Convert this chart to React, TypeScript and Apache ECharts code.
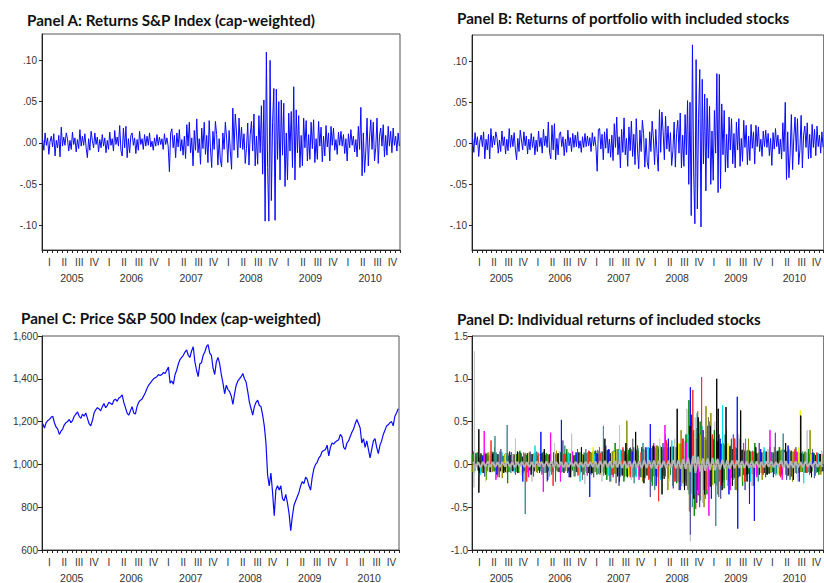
import React, { useEffect, useRef } from "react";
import * as echarts from "echarts";

// ---------- labels ----------
const QUARTERS = ["I", "II", "III", "IV"];
const YEARS = ["2005", "2006", "2007", "2008", "2009", "2010"];
const TITLES = [
  "Panel A: Returns S&P Index (cap-weighted)",
  "Panel B: Returns of portfolio with included stocks",
  "Panel C: Price S&P 500 Index (cap-weighted)",
  "Panel D: Individual returns of included stocks",
];
const RET_TICKS = [-0.1, -0.05, 0, 0.05, 0.1];

// ---------- data: returns, 4 obs per month, Jan 2005 - Dec 2010 ----------
const RET_A = [
  .004,-.009,.012,-.003,.006,-.014,.002,.008,-.005,.011,-.016,.003,
  -.006,.009,-.017,.019,-.004,.007,-.003,.012,.005,-.010,.003,-.008,
  .013,-.002,.006,-.011,.004,-.007,.016,-.004,.008,-.003,.011,-.006,
  -.018,.005,-.009,.014,.003,-.006,.012,-.002,.007,-.011,.004,-.006,
  .010,-.004,.006,-.012,.003,-.008,.013,-.003,.005,-.010,.015,-.002,
  .007,-.004,.021,-.009,-.016,.018,-.006,.020,-.018,.005,-.012,.009,
  .012,-.003,.006,-.013,.004,-.009,.014,-.002,.005,-.008,.010,-.004,
  .008,-.003,.012,-.005,.002,-.009,.006,-.004,.010,-.003,.007,-.002,
  .005,-.008,.011,-.002,.006,-.004,-.035,.012,.017,-.006,.009,-.018,
  .012,-.005,.016,-.010,.004,-.015,.008,-.019,.022,-.004,.025,-.012,
  .006,-.028,.015,-.009,.029,-.012,.005,-.026,.018,-.007,.025,-.014,
  .009,-.024,.027,-.006,-.030,.014,-.008,.026,.010,-.027,.005,-.021,
  -.029,.012,-.008,.025,.006,-.024,.015,-.010,-.032,.042,-.009,.035,
  .012,-.018,.030,-.006,.019,-.008,.011,-.025,-.007,.024,-.027,.010,
  .026,-.010,.035,-.028,.008,-.026,.033,-.012,.045,-.038,.052,-.095,
  .110,-.030,-.095,.100,-.070,.025,.066,-.094,.065,-.020,.050,-.045,
  .052,-.015,.048,-.053,.012,-.045,.036,-.010,.038,-.030,.068,-.045,
  .040,-.012,.033,-.030,.009,-.028,.030,-.006,.027,-.022,.010,-.020,
  .025,-.007,.028,-.024,.005,-.020,.026,-.004,.019,-.023,.008,-.016,
  .021,-.005,.012,-.022,.020,-.003,.018,-.009,.004,-.014,.013,-.003,
  .014,-.004,.010,-.013,.005,-.022,.011,-.006,.016,-.003,.008,-.011,
  .004,-.017,.020,-.008,.043,-.040,.012,-.036,-.010,.030,-.028,.006,
  .028,-.008,.025,-.022,-.006,.030,-.025,.008,.018,-.004,.022,-.017,
  .009,-.015,.020,-.004,.014,-.012,.018,-.003,.008,-.010,.012,-.004,
];

const RET_B = [
  .006,-.011,.013,-.002,.008,-.016,.003,.010,-.004,.014,-.019,.005,
  -.008,.011,-.019,.018,-.005,.009,-.002,.014,.006,-.012,.004,-.010,
  .015,-.003,.008,-.013,.005,-.009,.018,-.005,.010,-.004,.013,-.007,
  -.020,.006,-.010,.016,.004,-.008,.014,-.003,.009,-.013,.005,-.008,
  .012,-.005,.008,-.014,.004,-.010,.015,-.004,.007,-.012,.017,-.003,
  .009,-.005,.026,-.011,-.019,.022,-.008,.024,-.020,.006,-.014,.011,
  .014,-.004,.008,-.015,.005,-.011,.016,-.003,.007,-.010,.012,-.005,
  .010,-.004,.014,-.006,.003,-.011,.008,-.005,.012,-.004,.009,-.003,
  .007,-.010,.013,-.003,.008,-.005,-.034,.017,.018,-.007,.011,-.020,
  .014,-.006,.018,-.012,.005,-.017,.010,-.021,.024,-.005,.032,-.014,
  .008,-.030,.017,-.011,.031,-.014,.006,-.028,.020,-.009,.027,-.016,
  .011,-.026,.030,-.007,-.031,.016,-.010,.028,.012,-.029,.006,-.023,
  -.031,.014,-.010,.027,.007,-.026,.017,-.012,-.034,.041,-.011,.038,
  .014,-.020,.033,-.007,.021,-.010,.013,-.027,-.009,.026,-.029,.012,
  .028,-.012,.037,-.030,.010,-.028,.035,-.014,.052,-.050,.050,-.088,
  .120,-.035,-.098,.102,-.080,.030,.090,-.102,.078,-.025,.060,-.058,
  .055,-.018,.045,-.050,.015,-.045,.040,-.012,.085,-.060,.084,-.055,
  .048,-.014,.040,-.035,.011,-.030,.032,-.008,.030,-.025,.012,-.030,
  .026,-.008,.030,-.028,.006,-.022,.028,-.005,.022,-.026,.009,-.021,
  .023,-.006,.014,-.025,.022,-.004,.020,-.010,.005,-.016,.015,-.004,
  .016,-.005,.012,-.015,.006,-.027,.013,-.007,.018,-.004,.010,-.013,
  .005,-.019,.025,-.010,.050,-.044,.014,-.042,-.012,.035,-.032,.007,
  .032,-.010,.030,-.026,-.008,.034,-.030,.010,.021,-.005,.025,-.019,
  .011,-.018,.023,-.005,.017,-.015,.021,-.004,.010,-.012,.014,-.005,
];

// ---------- price level, 3 obs per month ----------
const PRICE_C = [
  1190,1170,1195, 1205,1210,1220, 1225,1195,1175, 1165,1140,1155,
  1165,1185,1195, 1200,1210,1195, 1205,1225,1235, 1245,1225,1215,
  1235,1225,1240, 1215,1190,1180, 1205,1240,1255, 1265,1260,1250,
  1270,1285,1265, 1275,1290,1285, 1280,1300,1305, 1295,1310,1315,
  1325,1290,1265, 1240,1230,1250, 1270,1240,1235, 1270,1290,1300,
  1305,1320,1335, 1355,1370,1380, 1390,1400,1405, 1410,1420,1415,
  1420,1430,1425, 1440,1455,1380, 1390,1375,1420, 1440,1470,1490,
  1500,1510,1525, 1535,1510,1500, 1530,1550,1480, 1440,1410,1470,
  1475,1510,1525, 1550,1560,1520, 1510,1450,1420, 1480,1500,1470,
  1420,1380,1330, 1370,1350,1340, 1320,1280,1330, 1370,1390,1400,
  1410,1425,1400, 1385,1340,1290, 1260,1230,1270, 1290,1300,1275,
  1270,1230,1180, 1100,950,900, 960,870,760, 880,900,880,
  900,840,830, 860,820,770, 690,760,810, 830,850,870,
  900,920,910, 940,930,900, 880,940,980, 1000,1010,1030,
  1040,1060,1065, 1070,1090,1040, 1080,1100,1095, 1105,1110,1115,
  1140,1130,1080, 1070,1100,1110, 1130,1150,1165, 1190,1210,1190,
  1170,1100,1120, 1080,1110,1070, 1030,1070,1110, 1120,1080,1050,
  1090,1110,1140, 1160,1180,1185, 1195,1200,1180, 1225,1240,1260,
];

// ---------- Panel D ----------
// central band (2 obs per month)
const D_BAND = [
  .03,-.03,.025,-.035,.03,-.025,.035,-.03,.03,-.03,.025,-.03,
  .03,-.025,.035,-.03,.025,-.035,.03,-.025,.03,-.03,.025,-.03,
  .03,-.03,.035,-.025,.03,-.03,.035,-.03,.04,-.035,.03,-.03,
  .03,-.035,.025,-.03,.03,-.025,.03,-.03,.025,-.03,.03,-.025,
  .03,-.03,.035,-.04,.035,-.03,.04,-.035,.035,-.04,.04,-.035,
  .045,-.04,.04,-.045,.04,-.04,.045,-.04,.04,-.045,.045,-.04,
  .05,-.045,.045,-.05,.045,-.04,.04,-.045,.045,-.04,.05,-.045,
  .05,-.05,.06,-.055,.08,-.09,.1,-.1,.09,-.085,.07,-.075,
  .07,-.065,.075,-.07,.065,-.06,.055,-.05,.05,-.05,.045,-.045,
  .045,-.04,.04,-.04,.035,-.04,.04,-.035,.035,-.035,.03,-.035,
  .035,-.03,.035,-.035,.03,-.03,.045,-.04,.04,-.04,.035,-.04,
  .035,-.035,.03,-.035,.035,-.03,.03,-.03,.035,-.03,.03,-.03,
];

// dense small returns of several stocks (2 obs per month each)
const D_FILL_GREEN = [
  .12,-.08,.14,-.1,.11,-.07,.13,-.09,.15,-.08,.12,-.1,
  .13,-.07,.11,-.09,.14,-.08,.12,-.1,.13,-.07,.11,-.09,
  .12,-.09,.14,-.07,.13,-.1,.11,-.08,.15,-.09,.12,-.08,
  .14,-.08,.12,-.1,.13,-.07,.11,-.09,.14,-.08,.13,-.1,
  .15,-.1,.13,-.12,.16,-.09,.14,-.11,.17,-.12,.15,-.1,
  .18,-.12,.16,-.14,.17,-.11,.19,-.13,.16,-.15,.18,-.12,
  .2,-.15,.18,-.13,.21,-.16,.17,-.14,.19,-.12,.2,-.15,
  .22,-.18,.25,-.2,.3,-.28,.35,-.3,.32,-.27,.3,-.25,
  .3,-.25,.28,-.22,.26,-.2,.24,-.18,.22,-.17,.2,-.15,
  .19,-.14,.17,-.12,.16,-.11,.15,-.12,.14,-.1,.15,-.11,
  .14,-.1,.13,-.09,.15,-.11,.16,-.12,.17,-.13,.15,-.11,
  .14,-.1,.13,-.09,.14,-.1,.12,-.08,.13,-.09,.12,-.08,
];
const D_FILL_OLIVE = [
  -.09,.13,-.07,.11,-.1,.14,-.08,.12,-.09,.13,-.07,.15,
  -.08,.12,-.1,.14,-.07,.11,-.09,.13,-.08,.12,-.1,.14,
  -.07,.13,-.09,.12,-.08,.15,-.1,.11,-.09,.14,-.07,.13,
  -.1,.12,-.08,.14,-.09,.11,-.07,.13,-.1,.12,-.08,.14,
  -.11,.15,-.09,.17,-.12,.14,-.1,.16,-.13,.15,-.11,.18,
  -.13,.17,-.15,.19,-.12,.18,-.14,.16,-.13,.2,-.15,.17,
  -.16,.19,-.14,.22,-.15,.2,-.13,.18,-.17,.21,-.15,.2,
  -.2,.24,-.22,.28,-.3,.38,-.35,.4,-.3,.36,-.28,.32,
  -.26,.3,-.24,.28,-.22,.25,-.2,.23,-.18,.21,-.16,.2,
  -.15,.18,-.13,.17,-.12,.16,-.11,.15,-.12,.14,-.1,.16,
  -.11,.15,-.1,.14,-.12,.16,-.13,.18,-.12,.16,-.11,.15,
  -.1,.14,-.09,.13,-.1,.14,-.08,.12,-.09,.13,-.08,.12,
];
const D_FILL_BLACK = [
  .11,.09,-.08,.13,-.1,.12,.1,-.09,.14,-.07,.12,-.08,
  .1,-.09,.13,.11,-.08,.12,-.1,.14,.09,-.08,.13,-.07,
  .12,-.08,.1,-.1,.13,.11,-.09,.12,-.07,.14,.1,-.09,
  .11,-.1,.13,-.08,.12,.1,-.09,.14,-.08,.11,.13,-.1,
  .14,-.11,.16,.12,-.1,.15,-.12,.17,.13,-.11,.16,-.13,
  .17,-.13,.15,-.15,.19,.16,-.12,.18,-.14,.2,.17,-.13,
  .19,-.16,.21,-.14,.18,.2,-.17,.22,-.15,.19,.21,-.16,
  .24,-.2,.27,-.25,.32,-.34,.38,.3,-.36,.33,-.3,.28,
  .29,-.26,.3,-.23,.27,.24,-.21,.22,-.19,.21,.18,-.16,
  .18,-.14,.17,.15,-.12,.16,-.11,.15,.13,-.12,.14,-.1,
  .15,-.11,.14,.13,-.1,.16,-.12,.17,.15,-.13,.16,-.12,
  .14,-.1,.13,.12,-.09,.13,-.1,.12,.11,-.09,.12,-.08,
];
const D_FILL_TEAL = [
  -.1,.12,.08,-.09,.13,-.11,.1,.12,-.08,.14,-.09,.11,
  -.09,.13,.1,-.1,.12,-.08,.14,.11,-.1,.13,-.09,.12,
  -.11,.12,.09,-.08,.14,-.1,.12,.1,-.09,.13,-.08,.15,
  -.09,.13,.11,-.1,.12,-.08,.13,.1,-.09,.14,-.1,.12,
  -.12,.16,.13,-.11,.15,-.13,.17,.14,-.12,.16,-.11,.17,
  -.14,.18,.16,-.13,.2,-.15,.17,.19,-.14,.18,-.16,.19,
  -.17,.21,.19,-.15,.22,-.16,.2,.18,-.15,.21,-.17,.2,
  -.21,.25,-.26,.3,-.35,.36,-.32,.42,-.34,.38,-.29,.3,
  -.27,.32,.28,-.25,.27,-.22,.25,.22,-.2,.22,-.18,.2,
  -.16,.18,.17,-.14,.17,-.13,.16,.15,-.12,.15,-.11,.16,
  -.12,.15,.14,-.11,.16,-.13,.17,.16,-.14,.17,-.12,.15,
  -.11,.14,.13,-.1,.14,-.09,.13,.12,-.1,.13,-.09,.12,
];

// individual large moves [month index, return]
const D_SILVER = [[0.5,1.32],[0.4,-.27],[3.7,.15],[8.9,.3],[12.3,-.2],[16.9,.25],[20.4,.36],[23.1,-.23],[26.6,-.2],[30.2,.46],[32.6,-.18],[35.4,.2],[38.1,-.22],[41.5,.3],[44.7,-.9],[44,.65],[45.7,.55],[47.2,-.45],[49.7,.5],[52.7,-.3],[54.6,.35],[57.3,-.25],[60.6,.18],[64,.14],[66.7,-.2],[68.6,.4],[71.6,.16]];
const D_BLACK = [[1.4,.41],[1.4,-.33],[4.2,.12],[6.5,-.1],[9.3,.15],[12.1,-.12],[14.8,.18],[17.6,.13],[20.2,-.15],[22.4,.2],[24.5,-.1],[27.2,.3],[29.8,-.14],[31.5,.25],[33.5,.38],[35.2,-.22],[37.1,.22],[38.9,-.35],[40.6,.2],[42,.65],[43.5,-.3],[44.6,.45],[45.4,-.4],[46.3,.55],[47.6,-.35],[48.8,.45],[50.1,1.0],[50.4,.65],[51.2,-.3],[52,.67],[53.3,-.25],[55,.63],[56.3,-.2],[58.1,.2],[60.4,-.12],[62.5,.15],[64.2,.25],[65.8,-.18],[67.3,.57],[69.5,-.15],[71.2,.12]];
const D_RED = [[0.3,.15],[3.9,.28],[5.6,-.15],[8.1,.12],[11.2,-.2],[13.5,.14],[16.6,-.25],[18.9,.12],[21.7,-.13],[23.9,.16],[26.3,.13],[28.7,-.12],[30.9,.2],[32.4,-.15],[34.6,.14],[36.2,-.18],[38.2,-.43],[39.8,.28],[41.4,-.2],[43.1,.3],[45.2,.87],[45.8,-.52],[47,1.02],[47.9,-.3],[49.2,.35],[51,-.25],[53.7,.3],[55.8,-.2],[57.4,.15],[59.6,-.12],[61.3,.14],[63.2,-.15],[66.1,.18],[68.4,-.1],[70.6,.14]];
const D_BLUE = [[2.2,.1],[5.1,-.12],[7.7,.15],[10.4,-.2],[14.1,.38],[15.5,-.18],[18.3,.52],[19.9,-.15],[21.3,.14],[24.1,-.38],[25.6,.13],[28,.18],[30.2,-.2],[32.8,.15],[35.6,.2],[36.5,.47],[37.7,-.25],[40.2,.3],[42.6,-.3],[44.7,.9],[44.9,.58],[46,-.45],[47.3,.4],[49,-.4],[50.8,.3],[52.6,-.35],[54.3,.79],[54.4,-.75],[56.8,-.46],[57.8,-.66],[59.1,.18],[61.7,-.15],[64.7,.22],[67,-.2],[69.8,.14]];
const D_GREEN = [[0.8,.13],[2.9,-.18],[4.6,.2],[7.3,-.22],[9.8,.16],[12.6,-.14],[15.2,.13],[17.1,-.2],[19.4,.18],[22.9,-.12],[25.2,.15],[27.6,-.18],[29.3,.25],[31.1,-.2],[33.9,.22],[36.9,-.25],[39.3,.2],[41.9,-.22],[43.8,.35],[44.4,.75],[45.5,-.6],[46.7,.5],[48.1,-.35],[49.6,.4],[51.6,-.28],[53.1,.3],[55.4,-.25],[57.9,.25],[60.1,-.15],[62.9,.2],[65.4,-.14],[68.9,.18],[71,-.12]];
const D_TEAL = [[4.7,.33],[7.2,.46],[10.9,-.58],[13.2,.15],[16.3,-.12],[19,.22],[21.1,-.14],[23.3,.18],[26.9,.45],[28.4,-.2],[30.6,.15],[33.2,-.22],[35,.25],[37.4,-.3],[39.6,.35],[41.1,-.25],[43.3,.3],[45.1,-.5],[46.1,.6],[47.8,-.4],[48.6,.5],[49.9,-.72],[51.8,.35],[53.9,-.3],[56,.3],[58.6,-.2],[61,.2],[63.7,.36],[65.1,-.18],[67.7,.15],[70.3,-.13]];
const D_MAGENTA = [[2.5,.39],[4.9,-.18],[8.5,.1],[11.6,-.15],[14.6,-.32],[16.1,.37],[18.1,-.2],[20.6,.15],[23.6,-.13],[26.1,.2],[28.9,-.15],[31.8,.12],[34.2,-.18],[37.2,.25],[39.5,.46],[41.7,-.2],[43.9,.25],[46.4,-.35],[48.5,-.6],[50.6,.35],[52.9,-.3],[55.6,.25],[58.3,-.15],[61,.4],[63.5,-.18],[66.5,.15],[69.1,-.12]];
const D_CYAN = [[1.8,-.12],[6.1,.15],[8.8,-.1],[12.9,.22],[15.9,-.14],[19.7,.13],[22.1,-.2],[25,.12],[27.9,-.13],[30.4,.17],[33.6,-.15],[36.1,.2],[38.6,-.18],[40.9,.28],[42.9,-.25],[44.2,.35],[45.6,-.35],[47.1,.45],[48.3,-.3],[51.3,.69],[52.3,-.25],[54.8,.3],[57,-.2],[59.8,.2],[62.2,-.13],[64.9,.18],[67.9,-.22],[70.9,.13]];
const D_YELLOW = [[2.8,-.2],[6.8,.12],[10.1,-.13],[13.8,.1],[17.9,.15],[21.9,-.12],[24.8,.2],[29.1,.15],[32.1,-.14],[35.9,.18],[38.4,.3],[40.4,-.2],[42.3,.25],[44.8,-.4],[46.9,.35],[49.4,-.25],[52.4,.25],[55.2,-.2],[58.9,.18],[62.6,-.12],[66.9,.2],[67.2,.63],[69.4,.12]];
const D_OLIVE = [[3.3,.14],[6.2,-.16],[9.6,.12],[13.4,-.1],[17.3,.16],[20.9,-.14],[24.3,.13],[28.2,-.2],[31.7,.51],[34.9,-.2],[37.9,.22],[40.1,-.3],[42.8,.4],[44.5,-.55],[45.9,-.45],[46.2,.62],[47.5,-.5],[47.9,.68],[48.9,.6],[50.3,-.35],[52.1,.4],[54.1,-.3],[56.6,.3],[59.4,-.18],[63,.2],[65.6,-.2],[68.2,.15],[69.2,.4],[71.4,-.12]];
const D_SLATE = [[2.6,-.14],[5.9,.18],[8.9,-.12],[11.9,.15],[15.4,-.2],[18.6,.28],[21.6,.18],[24.9,-.15],[27.4,.22],[30.1,-.25],[33.1,.2],[36.5,-.38],[39.1,.25],[41.2,-.28],[44.7,-.82],[45.3,.4],[46.6,-.5],[48.2,.45],[50.9,-.4],[53.5,.35],[55.9,-.3],[58.8,.25],[62.1,.37],[64.4,-.18],[66.3,.2],[70.1,-.16]];
const D_DARKGRAY = [[1.1,.12],[5.3,-.15],[10.6,.14],[14.3,-.12],[18.5,.15],[22.6,-.18],[26,.16],[29.5,-.22],[32.9,.3],[36.7,-.2],[39.9,.25],[42.4,-.3],[45,.5],[46.8,-.42],[48.4,.55],[50.5,-.38],[53.8,.3],[57.6,-.25],[61.9,.2],[65.2,-.15],[69.7,.18]];

// [values, obs per month, position within each slot, colour]
const D_FILLS: [number[], number, number, string][] = [
  [D_FILL_OLIVE, 2, 0.4, "#8c8c00"],
  [D_FILL_GREEN, 2, 0.15, "#008a00"],
  [D_FILL_TEAL, 2, 0.9, "#3a8f8f"],
  [D_FILL_BLACK, 2, 0.65, "#222222"],
];
const D_SPIKES: [number[][], string][] = [
  [D_SILVER, "#c4c4c4"],
  [D_OLIVE, "#8c8c00"],
  [D_GREEN, "#008a00"],
  [D_TEAL, "#3a8f8f"],
  [D_YELLOW, "#eeee00"],
  [D_CYAN, "#00e0ee"],
  [D_SLATE, "#55559a"],
  [D_DARKGRAY, "#707070"],
  [D_MAGENTA, "#ff00ff"],
  [D_BLUE, "#1010ff"],
  [D_RED, "#ff2a2a"],
  [D_BLACK, "#000000"],
];

// ---------- helpers ----------
const toPoints = (vals: number[], perMonth: number) =>
  vals.map((v, i) => [(i + 0.5) / perMonth, v]);

const spikePoints = (spikes: number[][]) => {
  const s = [...spikes].sort((a, b) => a[0] - b[0]);
  const out: number[][] = [];
  s.forEach(([m, v]) => {
    out.push([m - 0.04, 0], [m, v], [m + 0.04, 0]);
  });
  return out;
};

const QUARTER_CATS = YEARS.flatMap(() => QUARTERS);

const LABEL_FONT = "'Liberation Sans', Arial, sans-serif";
const AXIS_COLOR = "#333";

const retFmt = (v: number) => {
  if (Math.abs(v) < 1e-9) return ".00";
  return v.toFixed(2).replace("0.", ".");
};

export default function App() {
  const ref = useRef<HTMLDivElement>(null);

  useEffect(() => {
    document.body.style.margin = "0";
    if (!ref.current) return;
    const chart = echarts.init(ref.current, undefined, { renderer: "svg" });

    const grids = [
      { left: 42, top: 34, width: 358, height: 216 },
      { left: 472, top: 35, width: 358, height: 215 },
      { left: 42, top: 336, width: 357, height: 215 },
      { left: 472, top: 336, width: 358, height: 215 },
    ].map((g) => ({
      ...g,
      show: true,
      borderColor: "#555",
      borderWidth: 1,
      backgroundColor: "transparent",
      containLabel: false,
    }));

    const xAxes: any[] = [];
    grids.forEach((_, g) => {
      xAxes.push({
        type: "value",
        gridIndex: g,
        min: 0,
        max: 72,
        interval: 1,
        position: "bottom",
        axisLine: { show: true, onZero: false, lineStyle: { color: "#222", width: 1 } },
        axisTick: { show: true, length: 3, lineStyle: { color: "#222" } },
        axisLabel: { show: false },
        splitLine: { show: false },
      });
      xAxes.push({
        type: "category",
        gridIndex: g,
        data: QUARTER_CATS,
        boundaryGap: true,
        position: "bottom",
        axisLine: { show: false, onZero: false },
        axisTick: { show: false },
        axisLabel: {
          interval: 0,
          fontSize: 10,
          fontFamily: LABEL_FONT,
          color: AXIS_COLOR,
          margin: 7,
        },
        splitLine: { show: false },
      });
      xAxes.push({
        type: "category",
        gridIndex: g,
        data: YEARS,
        boundaryGap: true,
        position: "bottom",
        offset: 15,
        axisLine: { show: false, onZero: false },
        axisTick: { show: false },
        axisLabel: {
          interval: 0,
          fontSize: 10.5,
          fontFamily: LABEL_FONT,
          color: AXIS_COLOR,
          margin: 7,
        },
        splitLine: { show: false },
      });
    });

    const baseY = {
      type: "value",
      axisLine: { show: true, onZero: false, lineStyle: { color: "#222" } },
      splitLine: { show: false },
    };
    const retY = (g: number) => ({
      ...baseY,
      gridIndex: g,
      min: -0.13,
      max: 0.132,
      axisTick: { show: true, length: 3, customValues: RET_TICKS, lineStyle: { color: "#222" } },
      axisLabel: {
        customValues: RET_TICKS,
        formatter: retFmt,
        fontSize: 10,
        fontFamily: LABEL_FONT,
        color: AXIS_COLOR,
        margin: 5,
      },
    });
    const yAxes: any[] = [
      retY(0),
      retY(1),
      {
        ...baseY,
        gridIndex: 2,
        min: 600,
        max: 1600,
        interval: 200,
        axisTick: { show: true, length: 4, lineStyle: { color: "#222" } },
        axisLabel: {
          formatter: (v: number) => v.toLocaleString("en-US"),
          fontSize: 10,
          fontFamily: LABEL_FONT,
          color: AXIS_COLOR,
          margin: 4,
        },
      },
      {
        ...baseY,
        gridIndex: 3,
        min: -1,
        max: 1.5,
        interval: 0.5,
        axisTick: { show: true, length: 4, lineStyle: { color: "#222" } },
        axisLabel: {
          formatter: (v: number) => v.toFixed(1),
          fontSize: 10,
          fontFamily: LABEL_FONT,
          color: AXIS_COLOR,
          margin: 4,
        },
      },
    ];

    const blueLine = (data: number[][], xi: number, yi: number, w = 1) => ({
      type: "line",
      xAxisIndex: xi,
      yAxisIndex: yi,
      data,
      showSymbol: false,
      symbol: "none",
      lineStyle: { color: "#0a0aff", width: w },
      itemStyle: { color: "#0a0aff" },
      silent: true,
    });

    const dLine = (data: number[][], color: string, width = 1, z = 2) => ({
      type: "line",
      xAxisIndex: 9,
      yAxisIndex: 3,
      data,
      showSymbol: false,
      symbol: "none",
      lineStyle: { color, width },
      itemStyle: { color },
      silent: true,
      z,
    });

    const series: any[] = [
      blueLine(toPoints(RET_A, 4), 0, 0),
      blueLine(toPoints(RET_B, 4), 3, 1),
      blueLine(toPoints(PRICE_C, 3), 6, 2, 1.2),
      ...D_FILLS.map(([vals, per, pos, color]) =>
        dLine(spikePoints(vals.map((v, i) => [(i + pos) / per, v])), color)
      ),
      ...D_SPIKES.map(([spikes, color]) => dLine(spikePoints(spikes), color)),
      dLine(toPoints(D_BAND, 2), "#b4b4b4", 2, 5),
    ];

    const titlePos = [
      { left: 27, top: 12 },
      { left: 457, top: 10 },
      { left: 21, top: 310 },
      { left: 457, top: 311 },
    ];

    chart.setOption({
      animation: false,
      backgroundColor: "#ffffff",
      title: TITLES.map((t, i) => ({
        text: t,
        ...titlePos[i],
        padding: 0,
        textStyle: {
          fontFamily: "Lato, 'Open Sans', sans-serif",
          fontWeight: "bold",
          fontSize: 15.2,
          color: "#111",
        },
      })),
      grid: grids,
      xAxis: xAxes,
      yAxis: yAxes,
      series,
    });

    return () => chart.dispose();
  }, []);

  return <div ref={ref} style={{ width: 824, height: 583 }} />;
}
